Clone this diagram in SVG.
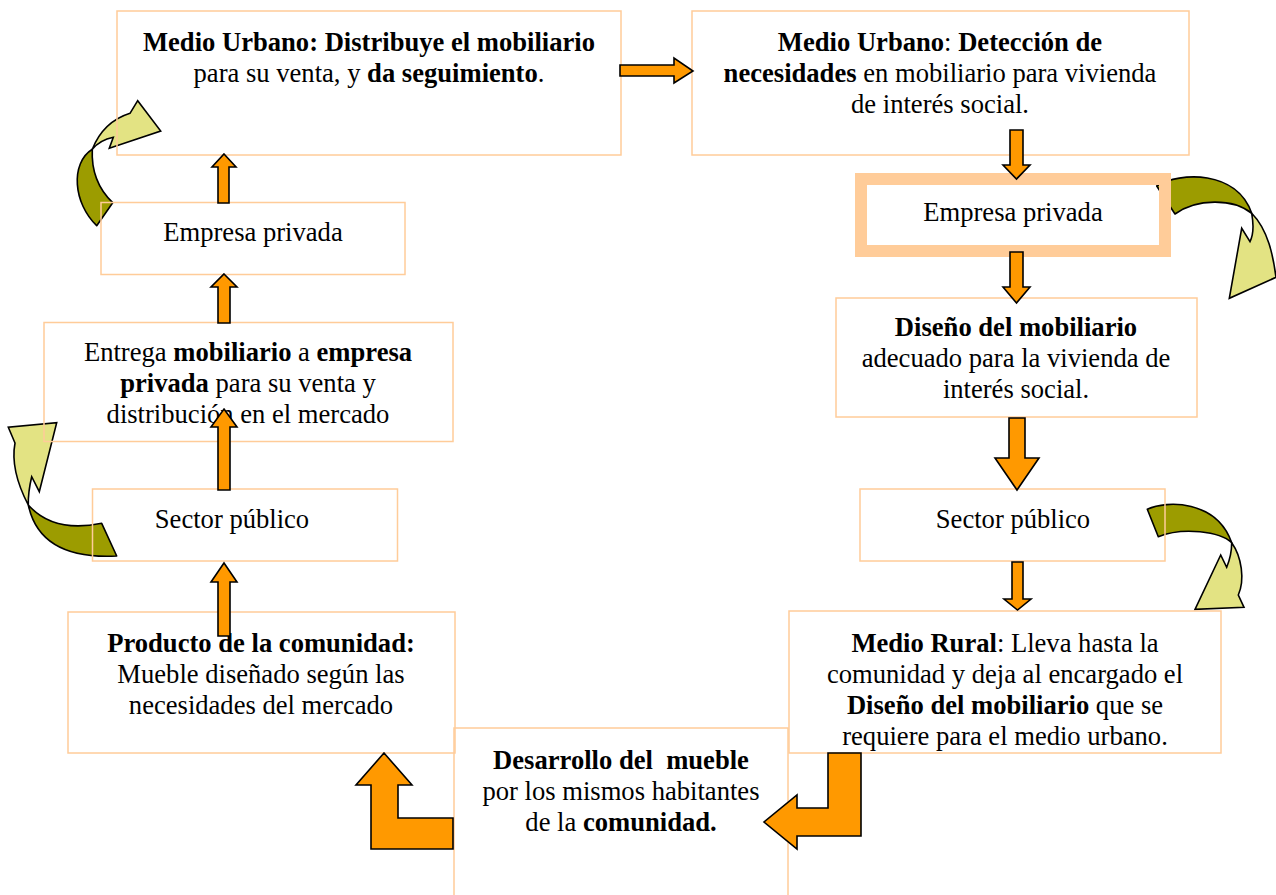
<svg xmlns="http://www.w3.org/2000/svg" width="1276" height="895" viewBox="0 0 1276 895">
<style>
.box{fill:none;stroke:#FFCC99;stroke-width:1.5}
.thick{fill:none;stroke:#FFCC99;stroke-width:12}
.t{font-family:"Liberation Serif","Times New Roman",serif;font-size:26.6px;fill:#000;text-anchor:middle;white-space:pre}
.b{font-weight:bold}
.blk{fill:#FF9900;stroke:#000;stroke-width:1.6;stroke-linejoin:miter}
.dk{fill:#9C9C00;stroke:#000;stroke-width:1.6;stroke-linejoin:round}
.lt{fill:#E3E383;stroke:#000;stroke-width:1.6;stroke-linejoin:miter}
</style>
<rect width="1276" height="895" fill="#fff"/>
<g id="curved-connectors">
<g id="curve-left-top">
<path class="dk" d="M96.7,225.7 L112.7,202.7 Q90.7,181.7 92.3,149.3 C70,163.3 73.3,203.3 96.7,225.7 Z"/>
<path class="lt" d="M92.3,149.3 Q103.3,121.7 130,113.3 L137.7,100.7 L160.7,131 L109.3,148.3 L113.3,137.3 Q100,140 92.3,149.3 Z"/>
</g>
<g id="curve-left-bottom">
<path class="dk" d="M28.3,505 Q40,560 116.7,556 L101.7,523.3 Q53.3,533.3 28.3,505 Z"/>
<path class="lt" d="M28.3,505 Q10,470 15,443 L8.3,427.3 L56.7,422.7 L39.3,491.7 L31.7,476.7 Q28,492 28.3,505 Z"/>
</g>
<g id="curve-right-top">
<path class="dk" d="M1156.7,186 C1180,171.7 1236.7,170 1251.7,213.3 C1233.3,198.3 1196.7,198.3 1175,214 Z"/>
<path class="lt" d="M1251.7,213.3 C1268.3,230 1273.3,256.7 1276,277.3 L1229.3,298.3 L1241.7,228.3 L1250,241.7 Q1255,231.7 1251.7,213.3 Z"/>
</g>
<g id="curve-right-bottom">
<path class="dk" d="M1147.3,509.3 C1166.7,500 1216.7,500 1231.7,542.7 C1220,531.7 1183.3,526.7 1158.3,536.7 Z"/>
<path class="lt" d="M1231.7,542.7 C1241.7,556.7 1245,580 1238.3,595 L1244,607.3 L1195,609.3 L1220.7,555 L1226.7,567.3 Q1231.7,555 1231.7,542.7 Z"/>
</g>
</g>
<g id="n-distribuye">
<rect class="box" x="117" y="11" width="504" height="144"/>
<text class="t" x="369" y="51"><tspan class="b">Medio Urbano: Distribuye el mobiliario</tspan></text>
<text class="t" x="369" y="82">para su venta, y <tspan class="b">da seguimiento</tspan>.</text>
</g>
<g id="n-deteccion">
<rect class="box" x="692" y="11" width="497" height="144"/>
<text class="t" x="940" y="51"><tspan class="b">Medio Urbano</tspan>: <tspan class="b">Detección de</tspan></text>
<text class="t" x="940" y="82"><tspan class="b">necesidades</tspan> en mobiliario para vivienda</text>
<text class="t" x="940" y="113">de interés social.</text>
</g>
<g id="n-empresa-left">
<rect class="box" x="101" y="202.5" width="304" height="72"/>
<text class="t" x="253" y="241">Empresa privada</text>
</g>
<g id="n-empresa-right">
<rect class="thick" x="861" y="179" width="304" height="72"/>
<text class="t" x="1013" y="221">Empresa privada</text>
</g>
<g id="n-diseno">
<rect class="box" x="836" y="298" width="361" height="119"/>
<text class="t" x="1016" y="336"><tspan class="b">Diseño del mobiliario</tspan></text>
<text class="t" x="1016" y="367">adecuado para la vivienda de</text>
<text class="t" x="1016" y="398">interés social.</text>
</g>
<g id="n-entrega">
<rect class="box" x="44" y="322.5" width="409" height="119"/>
<text class="t" x="248" y="361">Entrega <tspan class="b">mobiliario</tspan> a <tspan class="b">empresa</tspan></text>
<text class="t" x="248" y="392"><tspan class="b">privada</tspan> para su venta y</text>
<text class="t" x="248" y="423">distribución en el mercado</text>
</g>
<g id="n-sector-left">
<rect class="box" x="92.5" y="489" width="305" height="72"/>
<text class="t" x="232" y="528">Sector público</text>
</g>
<g id="n-sector-right">
<rect class="box" x="860" y="489" width="305" height="72"/>
<text class="t" x="1013" y="528">Sector público</text>
</g>
<g id="n-producto">
<rect class="box" x="68" y="612" width="387" height="141"/>
<text class="t" x="261" y="652"><tspan class="b">Producto de la comunidad:</tspan></text>
<text class="t" x="261" y="683">Mueble diseñado según las</text>
<text class="t" x="261" y="714">necesidades del mercado</text>
</g>
<g id="n-rural">
<rect class="box" x="789" y="611" width="432" height="142"/>
<text class="t" x="1005" y="652"><tspan class="b">Medio Rural</tspan>: Lleva hasta la</text>
<text class="t" x="1005" y="683">comunidad y deja al encargado el</text>
<text class="t" x="1005" y="714"><tspan class="b">Diseño del mobiliario</tspan> que se</text>
<text class="t" x="1005" y="745">requiere para el medio urbano.</text>
</g>
<g id="n-desarrollo">
<rect class="box" x="454" y="728" width="334" height="180"/>
<text class="t" x="621" y="769"><tspan class="b">Desarrollo del  mueble</tspan></text>
<text class="t" x="621" y="800">por los mismos habitantes</text>
<text class="t" x="621" y="831">de la <tspan class="b">comunidad.</tspan></text>
</g>
<g id="connectors">
<polygon class="blk" points="620,65 674,65 674,58 693,71 674,83 674,76 620,76"/>
<polygon class="blk" points="1010,130 1023,130 1023,165 1030,165 1016.5,179 1003,165 1010,165"/>
<polygon class="blk" points="1010,252 1023,252 1023,287 1030,287 1016.5,303 1003,287 1010,287"/>
<polygon class="blk" points="1009,418 1025,418 1025,458 1039,458 1017,490 995,458 1009,458"/>
<polygon class="blk" points="1012,562 1023,562 1023,599 1031,599 1017.5,610 1004,599 1012,599"/>
<polygon class="blk" points="828,753 861,753 861,836 797,836 797,849 764,822 797,795 797,808 828,808"/>
<polygon class="blk" points="384,753 412,785 398,785 398,818 453,818 453,849 371,849 371,785 356,785"/>
<polygon class="blk" points="224,563 237,582 230,582 230,636 218,636 218,582 211,582"/>
<polygon class="blk" points="224,409 237,427 230,427 230,490 218,490 218,427 211,427"/>
<polygon class="blk" points="224,274 237,287 230,287 230,323 218,323 218,287 211,287"/>
<polygon class="blk" points="224,154 236,167 229,167 229,203 218,203 218,167 212,167"/>
</g>
</svg>
